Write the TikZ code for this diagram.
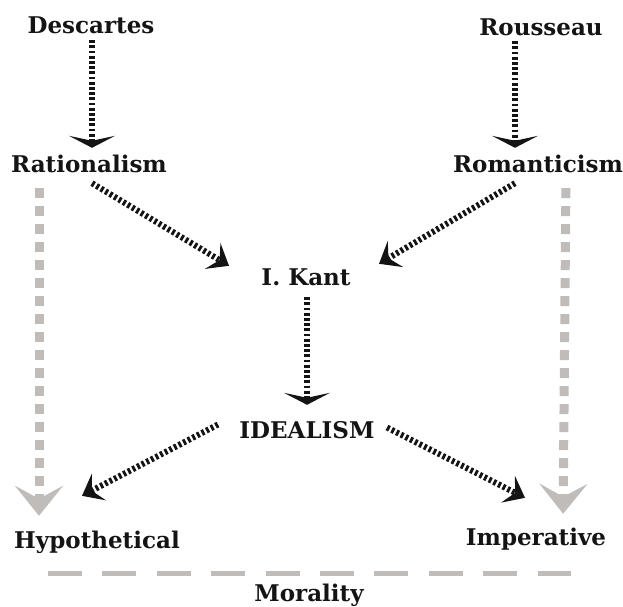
\documentclass[tikz,border=0pt]{standalone}
\usepackage{fontspec}
\setmainfont{DejaVu Serif}
\usetikzlibrary{arrows.meta}

\definecolor{ink}{RGB}{20,20,20}
\definecolor{ash}{RGB}{192,188,186}

\begin{document}
\begin{tikzpicture}[x=1pt, y=-1pt,
    term/.style={anchor=base, inner sep=0pt, text height=17.5pt, text depth=5.5pt,
                 font=\bfseries\fontsize{23}{26}\selectfont, text=ink},
    dotline/.style={draw=ink, line width=6pt, dash pattern=on 2.8pt off 2.4pt},
    vdot/.style={dotline, -{Stealth[length=12pt, width=46pt, inset=5pt]}},
    ddot/.style={dotline, -{Stealth[length=19pt, width=30pt, inset=8pt]}},
    grayarrow/.style={draw=ash, line width=9pt, dash pattern=on 10pt off 8pt,
                 -{Stealth[length=30pt, width=48pt, inset=13pt]}},
    grayline/.style={draw=ash, line width=5pt, dash pattern=on 34pt off 20.4pt},
    ]
    \useasboundingbox (0,0) rectangle (623,606);

    \node[term] (Descartes) at (91,33) {Descartes};
    \node[term] (Rousseau) at (541,35) {Rousseau};
    \node[term] (Rationalism) at (89,172) {Rationalism};
    \node[term] (Romanticism) at (538,172) {Romanticism};
    \node[term] (Kant) at (306,285) {I. Kant};
    \node[term] (Idealism) at (307,438) {IDEALISM};
    \node[term] (Hypo) at (97,548) {Hypothetical};
    \node[term] (Imper) at (536,545) {Imperative};
    \node[term] (Morality) at (309,601) {Morality};

    \coordinate (morL) at (48,573);
    \coordinate (morR) at (571,573);

    % black dotted arrows
    \path[vdot, shorten <=1.5pt, shorten >=6.5pt]
        ([xshift=1pt]Descartes.south) -- ([xshift=1pt]Descartes.south |- Rationalism.north);
    \path[vdot, shorten <=0.5pt, shorten >=6.5pt]
        ([xshift=-26pt]Rousseau.south) -- ([xshift=-26pt]Rousseau.south |- Romanticism.north);
    \path[ddot] ([shift={(3,5.5)}]Rationalism.south) -- ([shift={(-77,-1.5)}]Kant.north);
    \path[ddot] ([shift={(-23,5.5)}]Romanticism.south) -- ([shift={(73,-3.5)}]Kant.north);
    \path[vdot, shorten <=6.5pt, shorten >=15.5pt]
        ([xshift=1pt]Kant.south) -- ([xshift=1pt]Kant.south |- Idealism.north);
    \path[ddot] ([shift={(-89,-7.5)}]Idealism.center) -- ([shift={(-15,-34.5)}]Hypo.north);
    \path[ddot] ([shift={(80,-4.5)}]Idealism.center) -- ([shift={(-11,-29.5)}]Imper.north);

    % grey dashed arrows
    \path[grayarrow, shorten <=10.5pt, shorten >=14.5pt]
        ([xshift=-50pt]Rationalism.south) -- ([xshift=-58pt]Hypo.north);
    \path[grayarrow, shorten <=10.5pt, shorten >=13.5pt]
        ([xshift=28pt]Romanticism.south) -- ([xshift=27pt]Imper.north);
    \path[grayline] (morL) -- (morR);
\end{tikzpicture}
\end{document}
